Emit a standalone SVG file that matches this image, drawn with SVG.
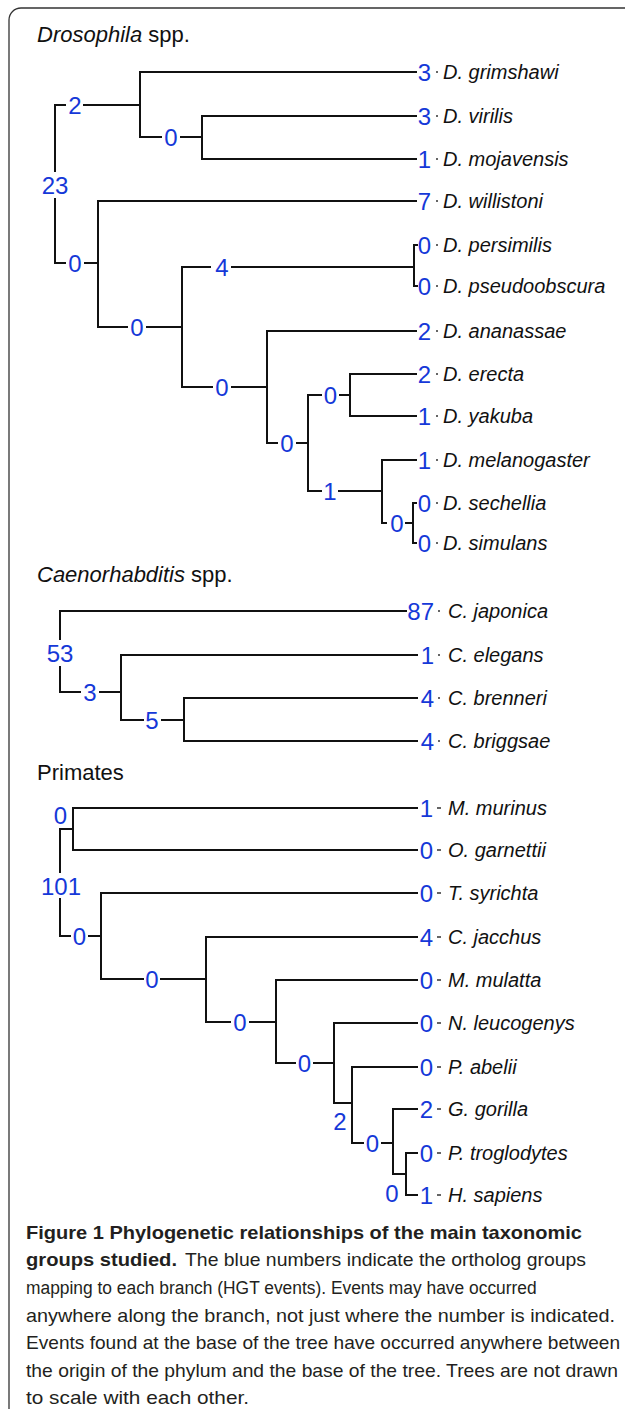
<svg xmlns="http://www.w3.org/2000/svg" width="625" height="1409" viewBox="0 0 625 1409">
<style>
.bg{fill:#fff}
.frame{fill:none;stroke:#333;stroke-width:1.3}
.ln{fill:none;stroke:#111;stroke-width:2;stroke-linejoin:miter}
.tick{fill:none;stroke:#333;stroke-width:1.4}
.num{font-family:"Liberation Sans",Arial,sans-serif;font-size:24px;fill:#1538d8}
.nd{text-anchor:middle}
.lf{text-anchor:end}
.sp{font-family:"Liberation Sans",Arial,sans-serif;font-size:20px;font-style:italic;fill:#111}
.ttl{font-family:"Liberation Sans",Arial,sans-serif;font-size:22px;fill:#111}
.cap{font-family:"Liberation Sans",Arial,sans-serif;font-size:19px;fill:#231f20}
.b{font-weight:bold}
</style>
<rect class="bg" x="0" y="0" width="625" height="1409"/>
<path class="frame" d="M9,1409 V20 A12,12 0 0 1 21,8 H625"/>

<!-- titles -->
<text class="ttl" x="37" y="42"><tspan font-style="italic">Drosophila</tspan> spp.</text>
<text class="ttl" x="37" y="582"><tspan font-style="italic">Caenorhabditis</tspan> spp.</text>
<text class="ttl" x="37" y="780">Primates</text>

<!-- connectors -->
<g id="connectors">
  <!-- Drosophila -->
  <path class="ln" d="M417,72 H140 V137 H162 M180,137 H202 M417,116 H202 V159 H417"/>
  <path class="ln" d="M83,105 H140 M66,105 H55 V172 M55,198 V263 H66 M84,263 H98"/>
  <path class="ln" d="M417,201 H98 V327 H128 M146,327 H182"/>
  <path class="ln" d="M211,267 H182 V387 H213 M231,267 H414 M418,245 H414 V286 H418"/>
  <path class="ln" d="M231,387 H267 M417,331 H267 V443 H278 M296,443 H308"/>
  <path class="ln" d="M322,395 H308 V491 H322 M339,395 H350 M417,374 H350 V416 H417"/>
  <path class="ln" d="M338,491 H382 M417,460 H382 V523 H387 M405,523 H413 M417,503 H413 V543 H417"/>
  <!-- Caenorhabditis -->
  <path class="ln" d="M407,611 H60 V640 M60,666 V692 H81 M99,692 H121 M418,655 H121 V720 H144 M161,720 H184 M418,698 H184 V741 H418"/>
  <!-- Primates -->
  <path class="ln" d="M418,808 H73 V850 H418 M73,829 H60 V873 M60,898 V936 H71 M88,936 H101"/>
  <path class="ln" d="M418,893 H101 V979 H144 M160,979 H206 M418,937 H206 V1022 H231 M249,1022 H276"/>
  <path class="ln" d="M418,980 H276 V1063 H296 M313,1063 H334 M418,1023 H334 V1103 H352"/>
  <path class="ln" d="M418,1067 H352 V1143 H364 M381,1143 H393 M418,1109 H393 V1174 H406 M418,1153 H406 V1195 H418"/>
  <!-- leader ticks -->
  <path class="tick" d="M436,72 H438 M436,116 H438 M436,159 H438 M436,201 H438 M436,245 H438 M436,286 H438 M436,331 H438 M436,374 H438 M436,416 H438 M436,460 H438 M436,503 H438 M436,543 H438"/>
  <path class="tick" d="M438,611 H440 M438,655 H440 M438,698 H440 M438,741 H440"/>
  <path class="tick" d="M437,808 H441 M437,850 H441 M437,893 H441 M437,937 H441 M437,980 H441 M437,1023 H441 M437,1067 H441 M437,1109 H441 M437,1153 H441 M437,1195 H441"/>
</g>

<!-- Drosophila internal nodes -->
<g id="dro-internal">
  <text class="num nd" x="75" y="113.5">2</text>
  <text class="num nd" x="55" y="193.5">23</text>
  <text class="num nd" x="171" y="145.5">0</text>
  <text class="num nd" x="75" y="271.5">0</text>
  <text class="num nd" x="222" y="275.5">4</text>
  <text class="num nd" x="137" y="335.5">0</text>
  <text class="num nd" x="222" y="395.5">0</text>
  <text class="num nd" x="287" y="451.5">0</text>
  <text class="num nd" x="330.5" y="403.5">0</text>
  <text class="num nd" x="330" y="499.5">1</text>
  <text class="num nd" x="397" y="531.5">0</text>
</g>

<!-- Drosophila leaves -->
<g id="dro-leaves">
  <g id="d-grimshawi"><text class="num lf" x="431" y="80.5">3</text><text class="sp" x="443" y="79">D. grimshawi</text></g>
  <g id="d-virilis"><text class="num lf" x="431" y="124.5">3</text><text class="sp" x="443" y="123">D. virilis</text></g>
  <g id="d-mojavensis"><text class="num lf" x="431" y="167.5">1</text><text class="sp" x="443" y="166">D. mojavensis</text></g>
  <g id="d-willistoni"><text class="num lf" x="431" y="209.5">7</text><text class="sp" x="443" y="208">D. willistoni</text></g>
  <g id="d-persimilis"><text class="num lf" x="431" y="253.5">0</text><text class="sp" x="443" y="252">D. persimilis</text></g>
  <g id="d-pseudoobscura"><text class="num lf" x="431" y="294.5">0</text><text class="sp" x="443" y="293">D. pseudoobscura</text></g>
  <g id="d-ananassae"><text class="num lf" x="431" y="339.5">2</text><text class="sp" x="443" y="338">D. ananassae</text></g>
  <g id="d-erecta"><text class="num lf" x="431" y="382.5">2</text><text class="sp" x="443" y="381">D. erecta</text></g>
  <g id="d-yakuba"><text class="num lf" x="431" y="424.5">1</text><text class="sp" x="443" y="423">D. yakuba</text></g>
  <g id="d-melanogaster"><text class="num lf" x="431" y="468.5">1</text><text class="sp" x="443" y="467">D. melanogaster</text></g>
  <g id="d-sechellia"><text class="num lf" x="431" y="511.5">0</text><text class="sp" x="443" y="510">D. sechellia</text></g>
  <g id="d-simulans"><text class="num lf" x="431" y="551.5">0</text><text class="sp" x="443" y="550">D. simulans</text></g>
</g>

<!-- Caenorhabditis -->
<g id="cae-internal">
  <text class="num nd" x="60" y="661.5">53</text>
  <text class="num nd" x="90" y="700.5">3</text>
  <text class="num nd" x="152" y="728.5">5</text>
</g>
<g id="cae-leaves">
  <g id="c-japonica"><text class="num lf" x="434" y="619.5">87</text><text class="sp" x="448" y="618">C. japonica</text></g>
  <g id="c-elegans"><text class="num lf" x="434" y="663.5">1</text><text class="sp" x="448" y="662">C. elegans</text></g>
  <g id="c-brenneri"><text class="num lf" x="434" y="706.5">4</text><text class="sp" x="448" y="705">C. brenneri</text></g>
  <g id="c-briggsae"><text class="num lf" x="434" y="749.5">4</text><text class="sp" x="448" y="748">C. briggsae</text></g>
</g>

<!-- Primates -->
<g id="pri-internal">
  <text class="num nd" x="60.5" y="823.5">0</text>
  <text class="num nd" x="61" y="894.5">101</text>
  <text class="num nd" x="79.5" y="944.5">0</text>
  <text class="num nd" x="152" y="987.5">0</text>
  <text class="num nd" x="240" y="1030.5">0</text>
  <text class="num nd" x="304.5" y="1071.5">0</text>
  <text class="num nd" x="340" y="1129.5">2</text>
  <text class="num nd" x="372.5" y="1151.5">0</text>
  <text class="num nd" x="392" y="1201.5">0</text>
</g>
<g id="pri-leaves">
  <g id="m-murinus"><text class="num lf" x="433" y="816.5">1</text><text class="sp" x="448" y="815">M. murinus</text></g>
  <g id="o-garnettii"><text class="num lf" x="433" y="858.5">0</text><text class="sp" x="448" y="857">O. garnettii</text></g>
  <g id="t-syrichta"><text class="num lf" x="433" y="901.5">0</text><text class="sp" x="448" y="900">T. syrichta</text></g>
  <g id="c-jacchus"><text class="num lf" x="433" y="945.5">4</text><text class="sp" x="448" y="944">C. jacchus</text></g>
  <g id="m-mulatta"><text class="num lf" x="433" y="988.5">0</text><text class="sp" x="448" y="987">M. mulatta</text></g>
  <g id="n-leucogenys"><text class="num lf" x="433" y="1031.5">0</text><text class="sp" x="448" y="1030">N. leucogenys</text></g>
  <g id="p-abelii"><text class="num lf" x="433" y="1075.5">0</text><text class="sp" x="448" y="1074">P. abelii</text></g>
  <g id="g-gorilla"><text class="num lf" x="433" y="1117.5">2</text><text class="sp" x="448" y="1116">G. gorilla</text></g>
  <g id="p-troglodytes"><text class="num lf" x="433" y="1161.5">0</text><text class="sp" x="448" y="1160">P. troglodytes</text></g>
  <g id="h-sapiens"><text class="num lf" x="433" y="1203.5">1</text><text class="sp" x="448" y="1202">H. sapiens</text></g>
</g>

<!-- caption -->
<g id="caption">
  <text class="cap b" x="26" y="1239" textLength="556" lengthAdjust="spacingAndGlyphs">Figure 1 Phylogenetic relationships of the main taxonomic</text>
  <text class="cap b" x="26" y="1266" textLength="151" lengthAdjust="spacingAndGlyphs">groups studied.</text>
  <text class="cap" x="185" y="1266" textLength="401" lengthAdjust="spacingAndGlyphs">The blue numbers indicate the ortholog groups</text>
  <text class="cap" transform="translate(26,1294) scale(0.915,1)" x="0" y="0">mapping to each branch (HGT events). Events may have occurred</text>
  <text class="cap" x="26" y="1322" textLength="589" lengthAdjust="spacingAndGlyphs">anywhere along the branch, not just where the number is indicated.</text>
  <text class="cap" x="26" y="1349" textLength="594" lengthAdjust="spacingAndGlyphs">Events found at the base of the tree have occurred anywhere between</text>
  <text class="cap" x="26" y="1377" textLength="592" lengthAdjust="spacingAndGlyphs">the origin of the phylum and the base of the tree. Trees are not drawn</text>
  <text class="cap" x="26" y="1404" textLength="223" lengthAdjust="spacingAndGlyphs">to scale with each other.</text>
</g>
</svg>
